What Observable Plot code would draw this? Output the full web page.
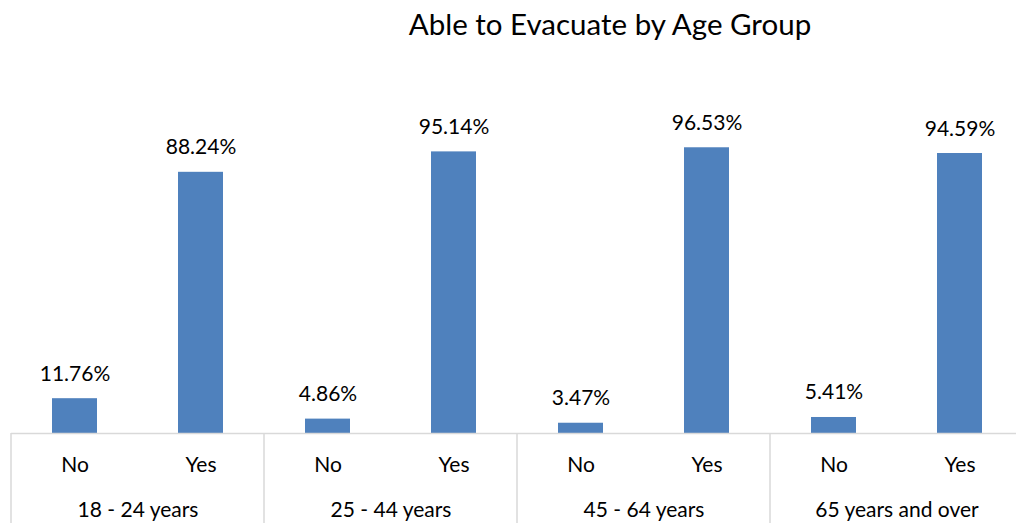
<!DOCTYPE html>
<html>
<head>
<meta charset="utf-8">
<script src="https://cdn.jsdelivr.net/npm/d3@7"></script>
<script src="https://cdn.jsdelivr.net/npm/@observablehq/plot@0.6"></script>
<style>
  html, body { margin: 0; padding: 0; background: #fff; overflow: hidden; width: 1016px; height: 523px; }
  #wrap { position: relative; width: 1016px; height: 523px; overflow: hidden; }
  #title { position: absolute; top: 6px; left: 610px; transform: translateX(-50%); white-space: nowrap;
           font-family: Lato, "Open Sans", sans-serif; font-size: 29.5px; color: #000; }
  #chart { position: absolute; top: 0; left: 0; width: 1024px; }
  #chart svg { overflow: visible; max-width: none !important; }
</style>
</head>
<body>
<div id="wrap">
  <div id="chart"></div>
  <div id="title">Able to Evacuate by Age Group</div>
</div>
<script>
const groups = ["18 - 24 years", "25 - 44 years", "45 - 64 years", "65 years and over"];
const answers = ["No", "Yes"];
const noValues = [11.76, 4.86, 3.47, 5.41];
const yesValues = [88.24, 95.14, 96.53, 94.59];

const data = [];
groups.forEach((g, i) => {
  data.push({group: g, answer: answers[0], value: noValues[i]});
  data.push({group: g, answer: answers[1], value: yesValues[i]});
});

const font = "Lato, 'Open Sans', sans-serif";
const blue = "#4F81BD";
const grid = "#D9D9D9";

const chart = Plot.plot({
  width: 1024,
  height: 523,
  marginLeft: 11,
  marginRight: 1,
  marginTop: 137,
  marginBottom: 90,
  style: {fontFamily: font, fontSize: "21px", color: "#000", background: "transparent", maxWidth: "none"},
  fx: {domain: groups, padding: 0, label: null},
  x: {domain: answers, paddingInner: 0.644, paddingOuter: 0.322, label: null},
  y: {domain: [0, 100], label: null, axis: null},
  marks: [
    Plot.barY(data, {fx: "group", x: "answer", y: "value", fill: blue}),
    Plot.text(data, {fx: "group", x: "answer", y: "value", text: d => d.value.toFixed(2) + "%",
      lineAnchor: "bottom", dy: -18, fontSize: 21, fill: "#000"}),
    Plot.ruleY([0], {stroke: grid, strokeWidth: 1.5}),
    Plot.axisX({anchor: "bottom", tickSize: 0, tickPadding: 24, fontSize: 21, label: null}),
    Plot.axisFx({anchor: "bottom", tickSize: 0, tickPadding: 69, fontSize: 21, label: null})
  ]
});

// group separators below the axis, positioned with Plot's fx and y scales
const fx = chart.scale("fx");
const y = chart.scale("y");
const svg = d3.select(chart);
const y0 = y.apply(0);
const bounds = groups.map(g => fx.apply(g));
bounds.push(fx.apply(groups[groups.length - 1]) + fx.bandwidth);
svg.append("g")
  .selectAll("line")
  .data(bounds)
  .join("line")
  .attr("x1", d => d).attr("x2", d => d)
  .attr("y1", y0).attr("y2", 523)
  .attr("stroke", grid).attr("stroke-width", 1.5);

document.getElementById("chart").appendChild(chart);
</script>
</body>
</html>
